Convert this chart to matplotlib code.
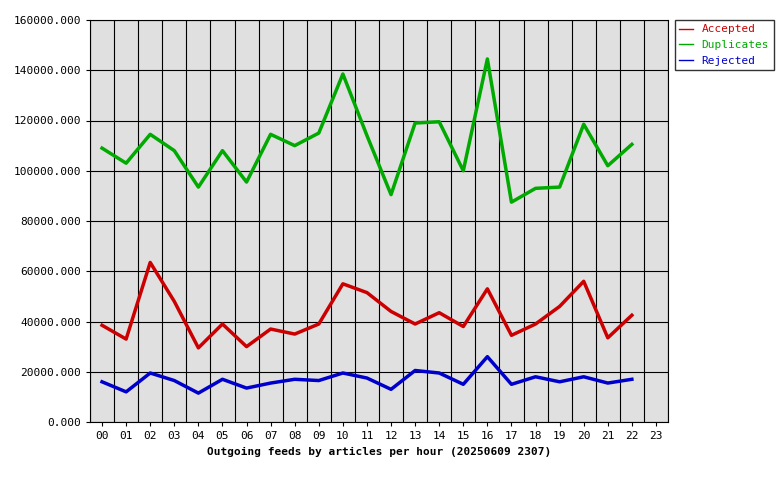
import matplotlib
matplotlib.use("Agg")
import matplotlib.pyplot as plt
import numpy as np

hours = ["%02d" % h for h in range(24)]
accepted = [38500,33000,63500,48000,29500,39000,30000,37000,35000,39000,55000,51500,44000,39000,43500,38000,53000,34500,39000,46000,56000,33500,42500]
duplicates = [109000,103000,114500,108000,93500,108000,95500,114500,110000,115000,138500,114000,90500,119000,119500,100000,144500,87500,93000,93500,118500,102000,110500]
rejected = [16000,12000,19500,16500,11500,17000,13500,15500,17000,16500,19500,17500,13000,20500,19500,15000,26000,15000,18000,16000,18000,15500,17000]

plt.rcParams['font.family'] = 'DejaVu Sans Mono'
fig = plt.figure(figsize=(7.8, 4.8), dpi=100)
ax = fig.add_axes([90/780, 58/480, 578/780, 402/480])
ax.set_facecolor('#e0e0e0')
x = np.arange(len(accepted))
ax.plot(x, accepted, color='#cc0000', lw=2.5, label='Accepted')
ax.plot(x, duplicates, color='#00aa00', lw=2.5, label='Duplicates')
ax.plot(x, rejected, color='#0000cc', lw=2.5, label='Rejected')
ax.set_xlim(-0.5, 23.5)
ax.set_ylim(0, 160000)
ax.set_xticks(range(24))
ax.set_xticklabels(hours, fontsize=8)
ax.set_xticks(np.arange(-0.5, 24, 1), minor=True)
ax.set_yticks(range(0, 160001, 20000))
ax.set_yticklabels(["%d.000" % v for v in range(0, 160001, 20000)], fontsize=8)
ax.tick_params(which='minor', length=0)
ax.tick_params(which='major', length=3)
ax.grid(True, which='minor', axis='x', color='black', lw=0.8)
ax.grid(True, which='major', axis='y', color='black', lw=0.8)
ax.set_axisbelow(True)
ax.set_xlabel('Outgoing feeds by articles per hour (20250609 2307)', fontsize=8, fontweight='bold', labelpad=4)
leg = ax.legend(loc='upper left', bbox_to_anchor=(1.012, 1.0), fontsize=8, frameon=True,
                fancybox=False, edgecolor='black', handlelength=1.2, borderaxespad=0)
for t, c in zip(leg.get_texts(), ['#cc0000', '#00aa00', '#0000cc']):
    t.set_color(c)
for l in leg.get_lines():
    l.set_linewidth(1)
fig.savefig('out.png', dpi=100)
